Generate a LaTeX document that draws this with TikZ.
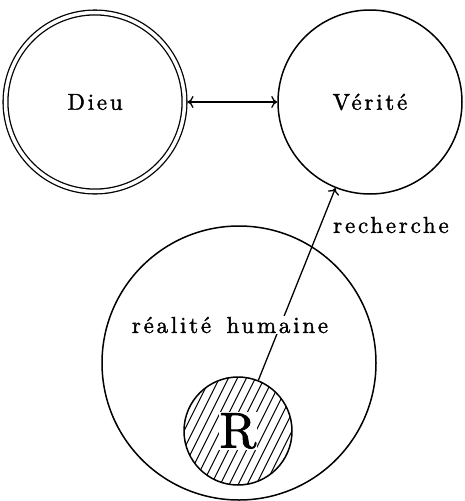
\documentclass[tikz,border=0pt]{standalone}
\usepackage{fontspec}
\setmainfont{lmroman10-regular}[Extension=.otf, LetterSpace=12, FakeBold=1.5]
\usetikzlibrary{calc,arrows.meta}

\tikzset{
  ring/.style={circle, draw, line width=1.5pt, inner sep=0pt},
  hatch/.style={line width=1pt},
  link/.style={line width=1.3pt, >={To[length=6pt,width=12pt]}},
  word/.style={font=\fontsize{23}{23}\selectfont}
}

\begin{document}
\begin{tikzpicture}[x=1pt, y=-1pt]
\useasboundingbox (0,0) rectangle (465,501);

% upper circles
\node[ring, double, double distance=3.5pt, line width=1.3pt, minimum size=179pt,
      outer sep=3pt, word] (dieu) at (95,102) {Dieu};
\node[ring, minimum size=184pt, word] (verite) at (370,102) {V\'erit\'e};
\draw[link, <->] (dieu) -- (verite);

% human reality and hatched R
\node[ring, minimum size=274pt] (humain) at (239,363) {};
\node[ring, minimum size=108pt,
  path picture={
    \foreach \i in {-135,-126,...,135}
      \draw[hatch] ($(path picture bounding box.center)+(\i-35,70)$) --
                   ($(path picture bounding box.center)+(\i+35,-70)$);
  }] (rc) at (238,431) {};
\node[fill=white, inner sep=1pt, font=\fontsize{50}{50}\selectfont\addfontfeatures{LetterSpace=0}] (rlettre) at (rc) {R};

% search arrow
\draw[link, ->] (rc) -- (verite);
\node[word, fill=white, inner sep=1pt] (realite) at (230,325) {r\'ealit\'e\hspace{5pt} humaine};
\node[word] (recherche) at (391,225) {recherche};
\end{tikzpicture}
\end{document}
